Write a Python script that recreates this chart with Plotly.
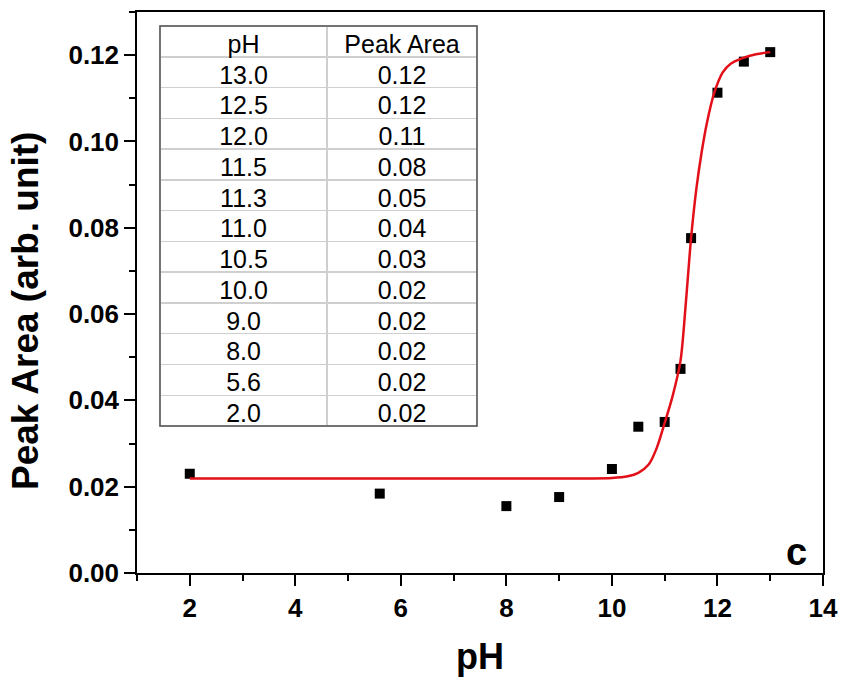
import plotly.graph_objects as go

# Measured data points
ph = [2.0, 5.6, 8.0, 9.0, 10.0, 10.5, 11.0, 11.3, 11.5, 12.0, 12.5, 13.0]
peak_area = [0.0230, 0.0184, 0.0155, 0.0176, 0.0241, 0.0339, 0.0350, 0.0473, 0.0776, 0.1113, 0.1185, 0.1207]

# Fitted sigmoid curve
fit_ph = [2.0, 9.5, 10.0, 10.3, 10.5, 10.7, 10.85, 11.0, 11.15, 11.3, 11.4, 11.5,
          11.6, 11.7, 11.8, 11.94, 12.1, 12.25, 12.45, 12.73, 13.0]
fit_area = [0.0219, 0.0219, 0.0220, 0.0224, 0.0232, 0.0252, 0.0290, 0.0348, 0.0410, 0.0492, 0.0625, 0.0776,
            0.0890, 0.0975, 0.1043, 0.1113, 0.1160, 0.1180, 0.1192, 0.1202, 0.1207]

# Inset table
table_header = ["pH", "Peak Area"]
table_ph = ["13.0", "12.5", "12.0", "11.5", "11.3", "11.0", "10.5", "10.0", "9.0", "8.0", "5.6", "2.0"]
table_area = ["0.12", "0.12", "0.11", "0.08", "0.05", "0.04", "0.03", "0.02", "0.02", "0.02", "0.02", "0.02"]

FONT = "Liberation Sans, Arial, sans-serif"

fig = go.Figure()

fig.add_trace(go.Scatter(
    x=ph, y=peak_area, mode="markers",
    marker=dict(symbol="square", size=10, color="black"),
    showlegend=False,
))
fig.add_trace(go.Scatter(
    x=fit_ph, y=fit_area, mode="lines",
    line=dict(color="#e3101a", width=2.5, shape="spline", smoothing=0.8),
    showlegend=False,
))

row_h = 30.77
fig.add_trace(go.Table(
    domain=dict(x=[0.0335, 0.4956], y=[0.25, 0.975]),
    columnwidth=[166, 149],
    header=dict(values=table_header, align="center", height=row_h,
                fill=dict(color="white"), line=dict(color="#cfcfcf", width=1.5),
                font=dict(family=FONT, size=25, color="black")),
    cells=dict(values=[table_ph, table_area], align="center", height=row_h,
               fill=dict(color="white"), line=dict(color="#cfcfcf", width=1.5),
               font=dict(family=FONT, size=25, color="black")),
))

axis_font = dict(family=FONT, size=26, color="black", weight="bold")

fig.update_layout(
    width=842, height=678,
    margin=dict(l=137, r=19, t=12, b=105, autoexpand=False),
    paper_bgcolor="white", plot_bgcolor="white",
    font=dict(family=FONT, color="black"),
    xaxis=dict(
        range=[1, 14], tick0=0, dtick=2, automargin=False,
        ticks="outside", ticklen=11, tickwidth=1.5, tickcolor="black",
        showline=True, linecolor="black", linewidth=1.5, mirror=True,
        showgrid=False, zeroline=False,
        tickfont=axis_font,
        minor=dict(dtick=1, ticks="outside", ticklen=6, tickwidth=1.5, tickcolor="black", showgrid=False),
        title=dict(text="pH", font=dict(family=FONT, size=36, color="black", weight="bold"), standoff=22),
    ),
    yaxis=dict(
        range=[0, 0.13], tick0=0, dtick=0.02, tickformat=".2f", automargin=False,
        ticks="outside", ticklen=11, tickwidth=1.5, tickcolor="black",
        showline=True, linecolor="black", linewidth=1.5, mirror=True,
        showgrid=False, zeroline=False,
        tickfont=axis_font,
        minor=dict(dtick=0.01, ticks="outside", ticklen=6, tickwidth=1.5, tickcolor="black", showgrid=False),
    ),
    annotations=[
        dict(
            text="c", x=0.962, y=0.037, xref="paper", yref="paper",
            xanchor="center", yanchor="middle", showarrow=False,
            font=dict(family=FONT, size=38, color="black", weight="bold"),
        ),
        dict(
            text="Peak Area (arb. unit)", textangle=-90,
            x=0, y=0.467, xref="paper", yref="paper", xshift=-112,
            xanchor="center", yanchor="middle", showarrow=False,
            font=dict(family=FONT, size=37, color="black", weight="bold"),
        ),
    ],
    shapes=[dict(
        type="rect", xref="paper", yref="paper",
        x0=0.0335, x1=0.4956, y0=0.262, y1=0.975,
        line=dict(color="#555555", width=1.5), layer="above",
    )],
)

fig.write_html("out.html")
